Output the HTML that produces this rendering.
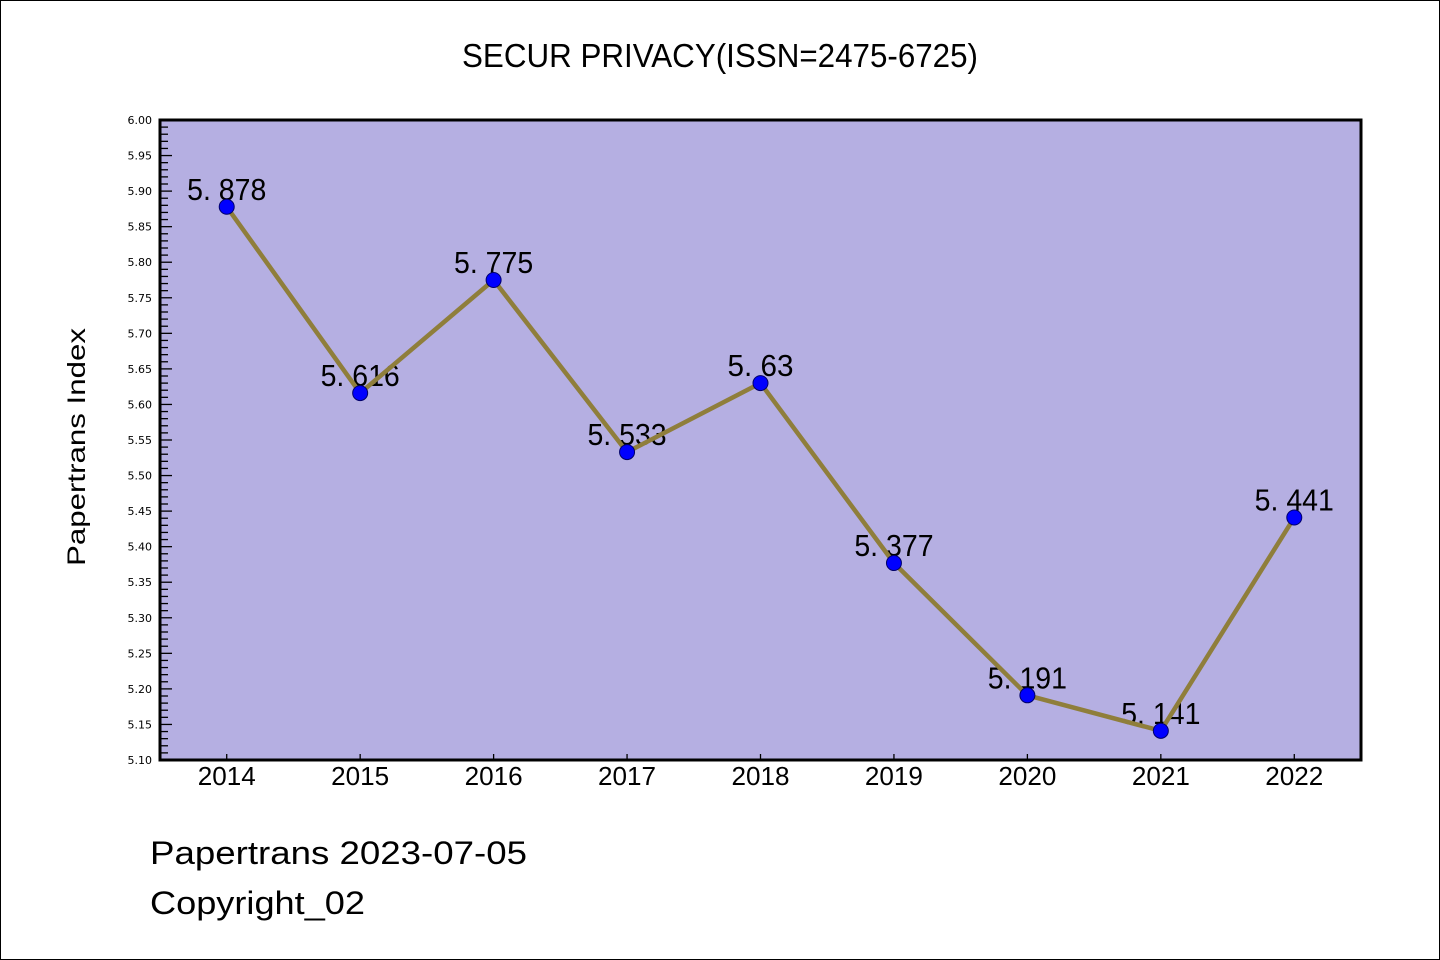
<!DOCTYPE html>
<html><head><meta charset="utf-8"><style>
html,body{margin:0;padding:0;background:#fff}
svg{display:block}
text{font-family:"WenQuanYi Zen Hei","Liberation Sans",sans-serif;fill:#000}
</style></head><body>
<svg id="chart" width="1440" height="960" viewBox="0 0 1440 960" xmlns="http://www.w3.org/2000/svg">
<rect x="0.5" y="0.5" width="1439" height="959" fill="#fff" stroke="#000" stroke-width="1"/>
<text x="720" y="67" text-anchor="middle" font-size="33" textLength="516" lengthAdjust="spacingAndGlyphs">SECUR PRIVACY(ISSN=2475-6725)</text>
<rect x="160" y="120" width="1201" height="640" fill="#b5afe2"/>
<g id="axes"></g>
<g id="labels"></g>
<g id="series"></g>
<rect x="160" y="120" width="1201" height="640" fill="none" stroke="#000" stroke-width="3"/>
<text transform="translate(85,447) rotate(-90)" text-anchor="middle" font-size="25" textLength="238" lengthAdjust="spacingAndGlyphs">Papertrans Index</text>
<text x="150" y="864" font-size="32" textLength="377" lengthAdjust="spacingAndGlyphs">Papertrans 2023-07-05</text>
<text x="150" y="914" font-size="32" textLength="215" lengthAdjust="spacingAndGlyphs">Copyright_02</text>
</svg>
<script>
const categories = ["2014","2015","2016","2017","2018","2019","2020","2021","2022"];
const values = [5.878,5.616,5.775,5.533,5.63,5.377,5.191,5.141,5.441];
const valueLabels = ["5. 878","5. 616","5. 775","5. 533","5. 63","5. 377","5. 191","5. 141","5. 441"];
const yTickLabels = ["5.10","5.15","5.20","5.25","5.30","5.35","5.40","5.45","5.50","5.55","5.60","5.65","5.70","5.75","5.80","5.85","5.90","5.95","6.00"];
const yMin = 5.10, yMax = 6.00;
const NS="http://www.w3.org/2000/svg";
const L=160,R=1361,T=120,B=760;
const step=(R-L)/categories.length;
function xs(i){return L+step*(i+0.5);}
function ys(v){return B-(v-yMin)/(yMax-yMin)*(B-T);}
function mk(tag,attrs,parent){const e=document.createElementNS(NS,tag);for(const k in attrs)e.setAttribute(k,attrs[k]);parent.appendChild(e);return e;}
const axes=document.getElementById('axes'),labels=document.getElementById('labels'),series=document.getElementById('series');
for(let k=0;k<=90;k++){
  const v=yMin+k*0.01, y=ys(v), major=k%5===0;
  const t=mk('line',{x1:L,x2:L+(major?12:8),y1:y,y2:y,stroke:'#000','stroke-width':1.3},axes);
  
  
}
yTickLabels.forEach(function(s){
  const v=parseFloat(s);
  const t=mk('text',{x:152,y:ys(v)+4,'text-anchor':'end','font-size':11,style:'font-family:"DejaVu Sans",sans-serif'},axes);
  t.textContent=s;
  
  
});
categories.forEach(function(c,i){
  const tk=mk('line',{x1:xs(i),x2:xs(i),y1:B,y2:B-6,stroke:'#000','stroke-width':1.3},axes);
  
  
  const t=mk('text',{x:xs(i),y:785,'text-anchor':'middle','font-size':26,textLength:58,lengthAdjust:'spacingAndGlyphs'},axes);
  t.textContent=c;
  
  
});
values.forEach(function(v,i){
  const t=mk('text',{x:xs(i),y:ys(v)-7,'text-anchor':'middle','font-size':31,textLength:valueLabels[i].length*13.2,lengthAdjust:'spacingAndGlyphs'},labels);
  t.textContent=valueLabels[i];
  
  
});
const pl=mk('polyline',{points:values.map(function(v,i){return xs(i)+','+ys(v);}).join(' '),fill:'none',stroke:'#8f7e3b','stroke-width':4.5,'stroke-linejoin':'round'},series);


values.forEach(function(v,i){
  const c=mk('circle',{cx:xs(i),cy:ys(v),r:7.5,fill:'#0000ff',stroke:'#00006a','stroke-width':1},series);
  
  
});
</script>
</body></html>
